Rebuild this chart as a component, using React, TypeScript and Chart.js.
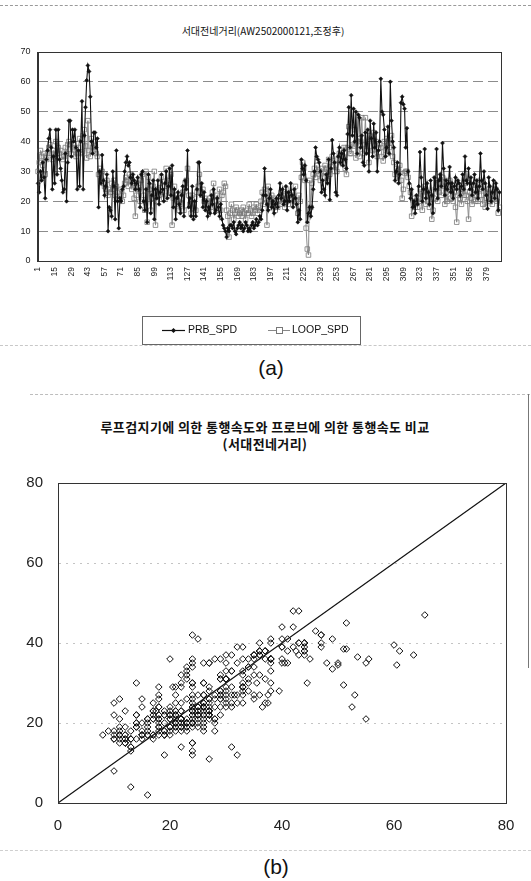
import React, { useEffect, useRef } from "react";
import { Chart, registerables } from "chart.js";

Chart.register(...registerables);

// Probe-based travel speed (km/h), 390 intervals
const PRB_SPD: number[] = [
  26, 23, 30, 27, 33, 28, 21, 34, 37, 41,
  44, 38, 24, 35, 26, 44, 29, 44, 34, 31,
  27, 23, 24, 36, 20, 33, 47, 47, 35, 44,
  40, 44, 38, 24, 37, 25, 40, 53.5, 24, 42,
  51.5, 60.5, 65.5, 63.5, 55, 40, 36, 43, 43, 38,
  41, 18, 30, 26, 35.5, 27, 22, 25, 29, 10,
  18, 17, 15, 30, 25, 14, 37, 20, 11, 21,
  20, 24, 25, 30, 33, 35, 32, 33, 28, 26,
  29, 27, 24, 26, 28, 24, 18, 29, 30, 20,
  17, 24, 13, 29, 26, 16, 22, 27, 14, 24,
  21, 27, 19, 23, 29, 24, 20, 26, 30, 21,
  25, 31, 22, 32, 18, 24, 14, 21, 23, 19,
  16, 22, 25, 15, 27, 24, 37, 18, 21, 15,
  25, 14, 20, 15, 24, 33, 33, 22, 26, 18,
  23, 17, 20, 15, 18, 16, 22, 19, 24, 16,
  17, 21, 18, 15, 19, 14, 12, 11, 10, 8,
  11, 10, 12, 12, 11, 13, 10, 9, 11, 12,
  13, 11, 12, 10, 11, 13, 12, 10, 11, 10,
  12, 13, 11, 12, 14, 12, 13, 15, 14, 17,
  22, 31, 22, 19, 17, 21, 24, 18, 20, 16,
  19, 21, 18, 22, 26, 21, 24, 19, 20, 25,
  17, 23, 20, 26, 22, 18, 24, 21, 19, 13,
  17, 14, 34, 31, 29, 32, 27, 13, 16, 18,
  15, 18, 24, 30, 38, 35, 34, 33, 30, 23,
  27, 24, 22, 29, 26, 34, 20.5, 31, 40.5, 36,
  33, 23, 22, 35, 38, 33, 36, 32, 37, 34,
  31, 42.5, 51.5, 38, 55.5, 42, 51, 40, 50, 36,
  49, 48, 38, 42, 33, 32, 43, 36, 44, 30,
  47, 41, 35, 46, 38, 43, 30, 37, 40, 61,
  50, 49, 44, 35, 38, 45, 36, 60, 47, 40,
  38, 27, 30, 33, 26, 29, 53, 55, 52.5, 51,
  38, 44.5, 30, 26, 21, 24, 18, 20, 16, 22,
  19, 25, 36.5, 28, 20, 24, 37.5, 21, 26, 23,
  19, 27, 22, 16, 28, 24, 37.5, 21, 27, 29,
  25, 39.5, 31, 22, 27, 24, 26, 31.5, 23, 26,
  21, 25, 28, 24, 27, 26, 22, 25, 29, 24,
  35, 27, 26, 31, 24, 28, 22, 26, 29, 23,
  27, 21, 25, 36, 27, 24, 30, 26, 22, 17.5,
  28, 25, 20, 23, 27, 21, 26, 24, 17, 23,
];

// Loop-detector travel speed (km/h), same intervals
const LOOP_SPD: number[] = [
  30, 33, 37, 35, 32, 36, 29, 34, 36, 38,
  39, 36, 34, 37, 35, 40, 36, 38, 36, 37,
  35, 34, 35, 38, 36, 39, 40, 39, 36, 38,
  39, 37, 35, 36, 38, 41, 36, 36.5, 42, 44,
  38.5, 34.5, 47, 37, 35, 41, 38, 40, 37, 36,
  35, 29, 31, 27, 30, 26, 25, 24, 27, 22,
  24, 23, 26, 24, 27, 22, 25, 23, 21, 22,
  24, 20, 22, 26, 28, 27, 25, 29, 27, 24,
  26, 21, 15, 22, 26, 24, 20, 27, 29, 22,
  17, 30, 13, 28, 24, 17, 21, 25, 30, 12,
  20, 24, 22, 26, 28, 23, 21, 25, 31, 27,
  22, 27, 29, 12, 21, 25, 19, 22, 20, 17,
  19, 21, 23, 17, 26, 27, 31, 22, 19, 16,
  22, 16, 21, 17, 23, 25, 29, 23, 22, 24,
  20, 21, 19, 20, 17, 21, 18, 23, 26, 20,
  17, 22, 19, 24, 17, 22, 23, 26, 25, 17,
  15, 8, 16, 19, 17, 14, 16, 18, 17, 15,
  16, 17, 15, 18, 16, 14, 17, 16, 19, 17,
  15, 16, 18, 17, 19, 16, 18, 17, 20, 23,
  19, 24, 21, 12, 25, 18, 20, 22, 19, 21,
  17, 20, 18, 20, 19, 23, 21, 22, 18, 24,
  21, 19, 22, 21, 23, 19, 20, 25, 20, 16,
  22, 20, 28, 33, 31, 27, 11, 4, 2, 27,
  18, 26, 29, 31, 28, 32, 30, 29, 27, 31,
  28, 30, 32, 31, 27, 34, 29, 33, 35, 32,
  30, 32, 30, 34, 36, 33, 37, 35, 38, 31,
  29, 38, 45, 36, 36, 39, 38.5, 44, 34.5, 40,
  41, 35, 40, 48, 36, 39, 48, 37, 40, 33,
  42, 41, 37, 43, 36, 40, 35, 38, 39, 38,
  35, 33.5, 40, 37, 41, 36, 38, 39.5, 42, 35,
  33, 29, 31, 27, 30, 32, 27, 21, 24, 29.5,
  30, 30, 28, 25, 23, 15, 21, 19, 18, 20,
  18, 21, 24, 20, 17, 22, 25, 19, 23, 20,
  18, 22, 14, 17, 21, 24, 27, 20, 23, 26,
  22, 28, 25, 19, 23, 20, 24, 27, 21, 24,
  20, 23, 18, 13, 22, 25, 21, 19, 24, 22,
  26, 22, 20, 14, 23, 21, 19, 24, 22, 20,
  23, 20, 24, 27, 22, 19, 25, 18, 21, 23,
  24, 20, 22, 19, 23, 21, 24, 20, 16, 18,
];

const X_LABELS: string[] = PRB_SPD.map((_, i) => String(i + 1));
const X_LABEL_STEP = 14;
const Y_RANGE_A = [0, 70];
const Y_STEP_A = 10;
const AXIS_RANGE_B = [0, 80];
const AXIS_STEP_B = 20;
const REF_LINE = [
  { x: 0, y: 0 },
  { x: 80, y: 80 },
];
const SERIES_NAMES = ["PRB_SPD", "LOOP_SPD"];
const TITLE_A = "서대전네거리(AW2502000121,조정후)";
const TITLE_B = ["루프검지기에 의한 통행속도와 프로브에 의한 통행속도 비교", "(서대전네거리)"];
const CAPTIONS = ["(a)", "(b)"];

const FONT = "'Liberation Sans', 'Noto Sans CJK KR', Arial, sans-serif";
const KFONT = "'Noto Sans CJK KR', 'Liberation Sans', sans-serif";

const frameA = {
  id: "frameA",
  afterDraw(chart: any) {
    const { ctx, chartArea: a } = chart;
    ctx.save();
    ctx.strokeStyle = "#333";
    ctx.lineWidth = 1;
    ctx.strokeRect(Math.round(a.left) + 0.5, Math.round(a.top) + 0.5, Math.round(a.right - a.left), Math.round(a.bottom - a.top));
    ctx.restore();
  },
};

const legendA = {
  id: "legendA",
  afterDraw(chart: any) {
    const ctx = chart.ctx as CanvasRenderingContext2D;
    ctx.save();
    ctx.strokeStyle = "#666";
    ctx.lineWidth = 1;
    ctx.strokeRect(142.5, 316.5, 218, 28);
    const y = 330.5;
    ctx.strokeStyle = "#111";
    ctx.lineWidth = 1.2;
    ctx.beginPath();
    ctx.moveTo(162, y);
    ctx.lineTo(185, y);
    ctx.stroke();
    ctx.fillStyle = "#111";
    ctx.beginPath();
    ctx.moveTo(173.5, y - 2.5);
    ctx.lineTo(176, y);
    ctx.lineTo(173.5, y + 2.5);
    ctx.lineTo(171, y);
    ctx.closePath();
    ctx.fill();
    ctx.font = `10.5px ${FONT}`;
    ctx.textBaseline = "middle";
    ctx.fillText(SERIES_NAMES[0], 188, y);
    ctx.strokeStyle = "#888";
    ctx.lineWidth = 1;
    ctx.beginPath();
    ctx.moveTo(268, y);
    ctx.lineTo(290, y);
    ctx.stroke();
    ctx.strokeStyle = "#777";
    ctx.fillStyle = "#fff";
    ctx.fillRect(276.5, y - 3, 6, 6);
    ctx.strokeRect(276.5, y - 3, 6, 6);
    ctx.fillStyle = "#111";
    ctx.fillText(SERIES_NAMES[1], 292, y);
    ctx.restore();
  },
};

export default function App() {
  const refA = useRef<HTMLCanvasElement>(null);
  const refB = useRef<HTMLCanvasElement>(null);

  useEffect(() => {
    const chartA = new Chart(refA.current as HTMLCanvasElement, {
      type: "line",
      data: {
        labels: X_LABELS,
        datasets: [
          {
            label: SERIES_NAMES[0],
            data: PRB_SPD,
            borderColor: "#111",
            borderWidth: 1.1,
            pointStyle: "rectRot",
            pointRadius: 2,
            pointBackgroundColor: "#111",
            pointBorderColor: "#111",
            pointBorderWidth: 0.5,
            tension: 0,
          },
          {
            label: SERIES_NAMES[1],
            data: LOOP_SPD,
            borderColor: "#8a8a8a",
            borderWidth: 1,
            pointStyle: "rect",
            pointRadius: 3.2,
            pointBackgroundColor: "rgba(255,255,255,0)",
            pointBorderColor: "#7a7a7a",
            pointBorderWidth: 0.8,
            tension: 0,
          },
        ],
      },
      options: {
        responsive: false,
        animation: false,
        devicePixelRatio: 1,
        events: [],
        layout: { padding: { top: 52, right: 31, left: 0, bottom: 0 } },
        plugins: { legend: { display: false }, title: { display: false }, tooltip: { enabled: false } },
        scales: {
          x: {
            type: "category",
            offset: true,
            grid: { display: false, drawTicks: false },
            border: { display: true, color: "#333" },
            afterFit: (s: any) => {
              s.height = 89;
            },
            ticks: {
              autoSkip: false,
              minRotation: 90,
              maxRotation: 90,
              padding: 6,
              color: "#222",
              font: { family: FONT, size: 8.5 },
              callback: (_v: any, i: number) => (i % X_LABEL_STEP === 0 ? X_LABELS[i] : null),
            },
          },
          y: {
            min: Y_RANGE_A[0],
            max: Y_RANGE_A[1],
            afterFit: (s: any) => {
              s.width = 37.5;
            },
            grid: { color: "#8c8c8c", drawTicks: false },
            border: { display: true, color: "#333", dash: [10, 5] },
            ticks: {
              stepSize: Y_STEP_A,
              padding: 7,
              color: "#222",
              font: { family: FONT, size: 9 },
            },
          },
        },
      },
      plugins: [frameA, legendA],
    } as any);

    const chartB = new Chart(refB.current as HTMLCanvasElement, {
      type: "scatter",
      data: {
        datasets: [
          {
            label: "scatter",
            data: PRB_SPD.map((p, i) => ({ x: p, y: LOOP_SPD[i] })),
            pointStyle: "rectRot",
            pointRadius: 3.3,
            pointBorderWidth: 1,
            pointBorderColor: "#111",
            pointBackgroundColor: "rgba(255,255,255,0)",
            showLine: false,
          },
          {
            label: "y=x",
            data: REF_LINE,
            showLine: true,
            borderColor: "#111",
            borderWidth: 1.2,
            pointRadius: 0,
          },
        ],
      },
      options: {
        responsive: false,
        animation: false,
        devicePixelRatio: 1,
        events: [],
        layout: { padding: { top: 28, right: 25, left: 0, bottom: 0 } },
        plugins: { legend: { display: false }, title: { display: false }, tooltip: { enabled: false } },
        scales: {
          x: {
            type: "linear",
            min: AXIS_RANGE_B[0],
            max: AXIS_RANGE_B[1],
            afterFit: (s: any) => {
              s.height = 47;
            },
            grid: { display: false, drawTicks: false },
            border: { display: true, color: "#222" },
            ticks: { stepSize: AXIS_STEP_B, padding: 14, color: "#222", font: { family: FONT, size: 15 } },
          },
          y: {
            type: "linear",
            min: AXIS_RANGE_B[0],
            max: AXIS_RANGE_B[1],
            afterFit: (s: any) => {
              s.width = 58;
            },
            grid: { color: "#c4c4c4", drawTicks: false },
            border: { display: true, color: "#222", dash: [2, 5] },
            ticks: { stepSize: AXIS_STEP_B, padding: 15, color: "#222", font: { family: FONT, size: 15 } },
          },
        },
      },
      plugins: [frameA],
    } as any);

    return () => {
      chartA.destroy();
      chartB.destroy();
    };
  }, []);

  const dashH = (top: number, left: number, width: number, color: string) => (
    <div
      style={{
        position: "absolute",
        top,
        left,
        width,
        height: 0,
        borderTop: `1px dashed ${color}`,
      }}
    />
  );

  return (
    <div
      style={{
        position: "absolute",
        left: 0,
        top: 0,
        width: 531,
        height: 881,
        background: "#fff",
        overflow: "hidden",
        fontFamily: KFONT,
        color: "#111",
      }}
    >
      {dashH(5, 0, 531, "#9a9a9a")}
      {dashH(345, 0, 531, "#c8c8c8")}
      {dashH(394, 30, 500, "#bdbdbd")}
      {dashH(850, 0, 531, "#cfcfcf")}
      <div
        style={{
          position: "absolute",
          left: 528,
          top: 394,
          width: 0,
          height: 274,
          borderLeft: "1px solid #777",
        }}
      />
      <div
        style={{
          position: "absolute",
          left: 263,
          top: 24,
          transform: "translateX(-50%)",
          whiteSpace: "nowrap",
          fontSize: 10,
          lineHeight: "14px",
          fontFamily: KFONT,
        }}
      >
        {TITLE_A}
      </div>
      <canvas
        ref={refA}
        width={531}
        height={350}
        style={{ position: "absolute", left: 0, top: 0, width: 531, height: 350 }}
      />
      <div
        style={{
          position: "absolute",
          left: 271,
          top: 354,
          transform: "translateX(-50%)",
          fontSize: 21,
          lineHeight: "28px",
          fontFamily: FONT,
        }}
      >
        {CAPTIONS[0]}
      </div>
      <div
        style={{
          position: "absolute",
          left: 265,
          top: 418,
          transform: "translateX(-50%)",
          whiteSpace: "nowrap",
          fontSize: 13,
          fontWeight: "bold",
          letterSpacing: "0.4px",
          lineHeight: "17px",
          textAlign: "center",
          fontFamily: KFONT,
        }}
      >
        <div>{TITLE_B[0]}</div>
        <div>{TITLE_B[1]}</div>
      </div>
      <canvas
        ref={refB}
        width={531}
        height={395}
        style={{ position: "absolute", left: 0, top: 455, width: 531, height: 395 }}
      />
      <div
        style={{
          position: "absolute",
          left: 276,
          top: 853,
          transform: "translateX(-50%)",
          fontSize: 21,
          lineHeight: "28px",
          fontFamily: FONT,
        }}
      >
        {CAPTIONS[1]}
      </div>
    </div>
  );
}
